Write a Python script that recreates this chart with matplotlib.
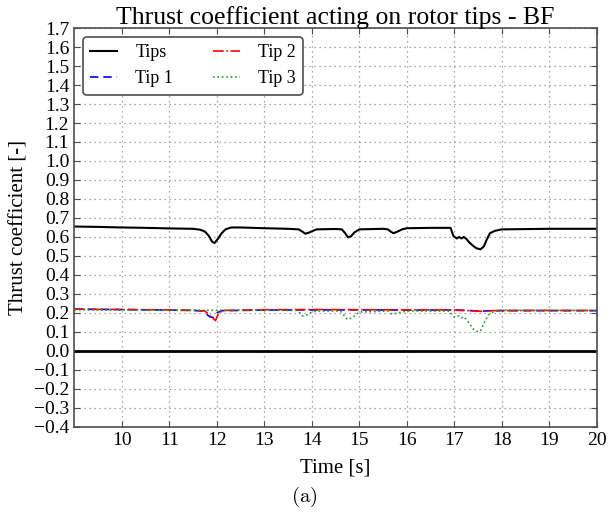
import matplotlib
matplotlib.use("Agg")
import matplotlib.pyplot as plt

plt.rcParams['font.family'] = ['Liberation Serif', 'DejaVu Serif']
plt.rcParams['mathtext.fontset'] = 'cm'
plt.rcParams['axes.unicode_minus'] = True

# ---- data ----
tips_t = [9.0, 9.5, 10.0, 10.5, 11.0, 11.5, 11.65, 11.75, 11.83, 11.9, 11.95, 12.02, 12.1,
          12.18, 12.3, 12.5, 13.0, 13.5, 13.72, 13.8, 13.86, 13.93, 14.0, 14.1, 14.5, 14.63,
          14.7, 14.76, 14.82, 14.9, 15.0, 15.5, 15.6, 15.66, 15.72, 15.8, 15.9, 16.0, 16.5,
          16.92, 16.98, 17.05, 17.1, 17.15, 17.2, 17.25, 17.32, 17.4, 17.47, 17.55, 17.62,
          17.68, 17.75, 17.85, 18.0, 19.0, 20.0]
tips_v = [0.655, 0.653, 0.650, 0.648, 0.645, 0.643, 0.638, 0.628, 0.605, 0.575, 0.568, 0.590,
          0.620, 0.640, 0.650, 0.650, 0.646, 0.643, 0.640, 0.628, 0.617, 0.622, 0.630, 0.640,
          0.642, 0.640, 0.620, 0.598, 0.603, 0.625, 0.640, 0.643, 0.640, 0.628, 0.620, 0.628,
          0.640, 0.646, 0.648, 0.648, 0.605, 0.592, 0.600, 0.592, 0.600, 0.590, 0.570, 0.552,
          0.540, 0.535, 0.550, 0.585, 0.620, 0.632, 0.640, 0.643, 0.643]

tip1_t = [9.0, 10.0, 11.0, 11.5, 11.7, 11.85, 11.92, 12.0, 12.1, 13.0, 14.0, 15.0, 16.0,
          17.0, 17.6, 17.8, 18.5, 20.0]
tip1_v = [0.220, 0.218, 0.215, 0.213, 0.210, 0.180, 0.175, 0.200, 0.212, 0.215, 0.216, 0.216,
          0.215, 0.215, 0.210, 0.212, 0.212, 0.212]

tip2_t = [9.0, 10.0, 11.0, 11.5, 11.75, 11.9, 11.97, 12.03, 12.12, 13.0, 14.0, 15.0, 16.0,
          17.0, 17.6, 17.8, 18.5, 20.0]
tip2_v = [0.220, 0.218, 0.216, 0.214, 0.210, 0.175, 0.160, 0.195, 0.213, 0.217, 0.218, 0.217,
          0.216, 0.216, 0.208, 0.212, 0.213, 0.213]

tip3_t = [9.0, 10.0, 11.0, 12.0, 13.0, 13.7, 13.8, 13.9, 14.0, 14.1, 14.6, 14.7, 14.75, 14.85,
          15.0, 15.6, 15.7, 15.8, 16.0, 16.9, 16.95, 17.0, 17.1, 17.15, 17.2, 17.3, 17.4, 17.5,
          17.55, 17.65, 17.72, 17.85, 18.0, 20.0]
tip3_v = [0.216, 0.215, 0.214, 0.214, 0.214, 0.213, 0.185, 0.190, 0.205, 0.210, 0.210, 0.180,
          0.165, 0.175, 0.205, 0.210, 0.192, 0.200, 0.210, 0.210, 0.190, 0.178, 0.185, 0.175,
          0.180, 0.150, 0.115, 0.100, 0.105, 0.160, 0.190, 0.210, 0.215, 0.213]

x_ticks = [10, 11, 12, 13, 14, 15, 16, 17, 18, 19, 20]
y_ticks = [-0.4, -0.3, -0.2, -0.1, 0.0, 0.1, 0.2, 0.3, 0.4, 0.5, 0.6, 0.7, 0.8, 0.9, 1.0,
           1.1, 1.2, 1.3, 1.4, 1.5, 1.6, 1.7]

fig = plt.figure(figsize=(6.09, 5.29), dpi=100)
ax = fig.add_axes([0.1215, 0.193, 0.8585, 0.754])

ax.axhline(0.0, color='k', lw=2)
ax.plot(tips_t, tips_v, color='k', lw=1.5, ls='-', label='Tips')
ax.plot(tip1_t, tip1_v, color='b', lw=1.2, ls=(0, (5, 3)), label='Tip 1')
ax.plot(tip2_t, tip2_v, color='r', lw=1.2, ls='-.', label='Tip 2')
ax.plot(tip3_t, tip3_v, color='#22a022', lw=1.2, ls=':', label='Tip 3')

ax.set_xlim(8.99, 20)
ax.set_ylim(-0.4, 1.7)
ax.set_xticks(x_ticks)
ax.set_yticks(y_ticks)
ax.set_yticklabels([f"{v:.1f}".replace('-', '\u2212') for v in y_ticks])
ax.tick_params(direction='in', top=True, right=True, labelsize=14, length=4, colors='0.3',
               labelcolor='k')
ax.grid(True, color='0.55', ls=(0, (1, 3)), lw=0.9)
for s in ax.spines.values():
    s.set_color('0.3')
    s.set_linewidth(1.2)

ax.set_title('Thrust coefficient acting on rotor tips - BF', fontsize=18.5, pad=3)
ax.set_xlabel('Time [s]', fontsize=15, labelpad=7)
ax.set_ylabel('Thrust coefficient [-]', fontsize=15, labelpad=4)

leg = ax.legend(loc='upper left', ncol=2, fontsize=13, fancybox=True, framealpha=1,
                edgecolor='0.3', handlelength=1.5, handletextpad=1.0, columnspacing=2.2,
                borderaxespad=0.5, borderpad=0.4)
leg.get_frame().set_linewidth(1.2)

fig.text(0.5, 0.06, r'$\mathrm{(a)}$', ha='center', va='center', fontsize=15)

fig.savefig('out.png', dpi=100, facecolor='white')
